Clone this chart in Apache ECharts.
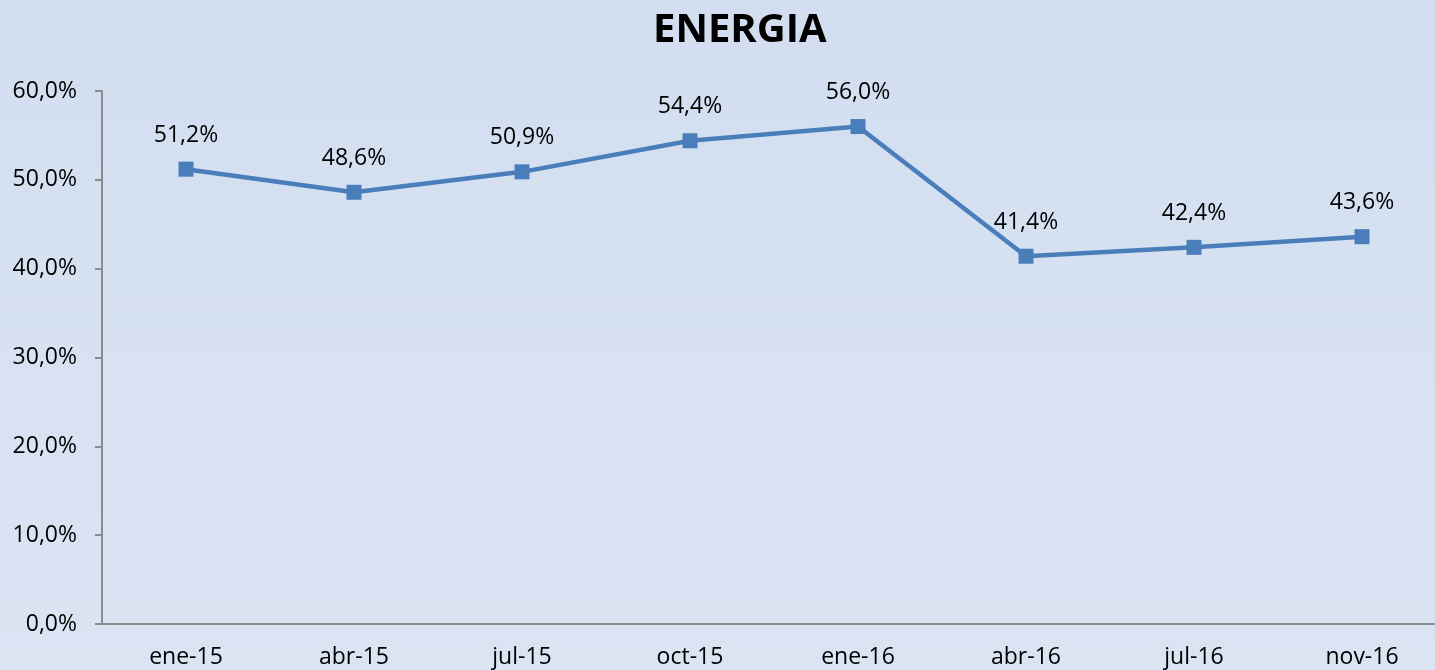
<!DOCTYPE html>
<html>
<head>
<meta charset="utf-8">
<script src="https://cdn.jsdelivr.net/npm/echarts@6/dist/echarts.min.js"></script>
<style>
  html, body { margin: 0; padding: 0; }
  #chart { width: 1435px; height: 670px; }
</style>
</head>
<body>
<div id="chart"></div>
<script>
var months = ['ene-15', 'abr-15', 'jul-15', 'oct-15', 'ene-16', 'abr-16', 'jul-16', 'nov-16'];
var energia = [51.2, 48.6, 50.9, 54.4, 56.0, 41.4, 42.4, 43.6];

function pct(v) {     // spanish format: 51,2%
  return v.toFixed(1).replace('.', ',') + '%';
}

var myChart = echarts.init(document.getElementById('chart'));
var option = {
  backgroundColor: {
    type: 'linear', x: 0, y: 0, x2: 0, y2: 1,
    colorStops: [{offset: 0, color: '#d2def0'}, {offset: 1, color: '#dbe4f3'}]
  },
  textStyle: { fontFamily: 'Open Sans' },
  title: {
    text: 'ENERGIA',
    left: 648,
    top: 6,
    textStyle: { fontSize: 40, fontWeight: 'bold', color: '#000' }
  },
  grid: {
    left: 102,
    right: -11,      // the last category runs past the window, as in the original
    top: 91,
    bottom: 46,
    outerBoundsMode: 'none'
  },
  xAxis: {
    type: 'category',
    data: months,
    boundaryGap: true,
    axisLine: { lineStyle: { color: '#8c8c8c', width: 2 } },
    axisTick: { alignWithLabel: false, length: 7, lineStyle: { color: '#8c8c8c', width: 2 } },
    axisLabel: { color: '#000', fontSize: 23, margin: 22 }
  },
  yAxis: {
    type: 'value',
    min: 0,
    max: 60,
    interval: 10,
    axisLine: { show: true, lineStyle: { color: '#8c8c8c', width: 2 } },
    axisTick: { show: true, length: 7, lineStyle: { color: '#8c8c8c', width: 2 } },
    splitLine: { show: false },
    axisLabel: { color: '#000', fontSize: 23, margin: 25, formatter: function (value) { return pct(value); } }
  },
  series: [{
    name: 'ENERGIA',
    type: 'line',
    data: energia,
    symbol: 'rect',
    symbolSize: 15,
    lineStyle: { color: '#4a7ebb', width: 4.5 },
    itemStyle: { color: '#4a7ebb' },
    label: {
      show: true,
      position: 'top',
      distance: 15,
      color: '#000',
      fontSize: 23,
      formatter: function (p) { return pct(p.value); }
    },
    animation: false
  }]
};
myChart.setOption(option);
</script>
</body>
</html>
